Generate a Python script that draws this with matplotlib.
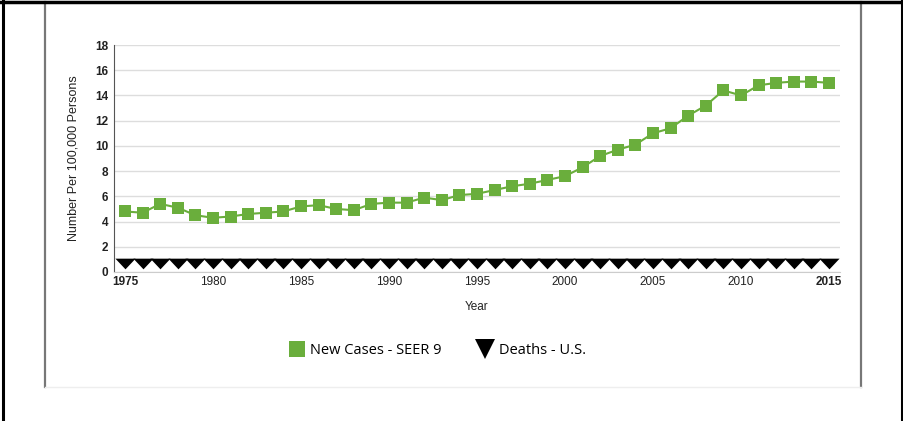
import matplotlib
matplotlib.use('Agg')
import matplotlib.pyplot as plt
from matplotlib.lines import Line2D
import numpy as np

# values
years = list(range(1975, 2016))
new_cases = [4.8, 4.7, 5.4, 5.1, 4.5, 4.3, 4.4, 4.6, 4.7, 4.8,
             5.2, 5.3, 5.0, 4.9, 5.4, 5.5, 5.5, 5.9, 5.7, 6.1,
             6.2, 6.5, 6.8, 7.0, 7.3, 7.6, 8.3, 9.2, 9.7, 10.1,
             11.0, 11.4, 12.4, 13.2, 14.4, 14.0, 14.8, 15.0, 15.1, 15.1,
             15.0]
deaths = [0.7] * len(years)
x_ticks = [1975, 1980, 1985, 1990, 1995, 2000, 2005, 2010, 2015]
y_ticks = [0, 2, 4, 6, 8, 10, 12, 14, 16, 18]

green = '#6aae3c'
plt.rcParams['font.family'] = ['Liberation Sans', 'DejaVu Sans']

fig = plt.figure(figsize=(9.04, 4.21), dpi=100)

# outer frames
W, H = 904, 421
def px_line(x0, y0, x1, y1, color, lw):
    fig.add_artist(Line2D([x0 / W, x1 / W], [1 - y0 / H, 1 - y1 / H],
                          transform=fig.transFigure, color=color, lw=lw))

px_line(45, 2, 45, 387, '#777777', 1.6)
px_line(861, 2, 861, 387, '#777777', 1.6)
px_line(45, 387, 861, 387, '#eeeeee', 1.0)
px_line(3, 0, 3, 421, 'black', 2.2)
px_line(902, 0, 902, 421, 'black', 2.2)
px_line(0, 1.5, 904, 1.5, 'black', 2.5)

ax = fig.add_axes([114 / W, 1 - 272 / H, (840 - 114) / W, (272 - 45) / H])

# flattened down-pointing triangle
tri = [(-1, 0.48), (1, 0.48), (0, -0.58), (-1, 0.48)]

ax.plot(years, new_cases, color=green, lw=1.5, marker='s', markersize=8.5,
        markeredgewidth=0, label='New Cases - SEER 9', zorder=3)
ax.plot(years, deaths, color='black', lw=0, marker=tri, markersize=14.5,
        markeredgewidth=0, label='Deaths - U.S.', zorder=4, clip_on=False)

ax.set_xlim(1974.375, 2015.625)
ax.set_ylim(0, 18)
ax.set_xticks(x_ticks)
ax.set_yticks(y_ticks)
ax.set_yticklabels([str(v) for v in y_ticks], fontweight='bold', fontsize=8.5)
ax.set_xticklabels([str(v) for v in x_ticks], fontsize=8.5)
for lbl in ax.get_xticklabels():
    if lbl.get_text() in ('1975', '2015'):
        lbl.set_fontweight('bold')
ax.tick_params(axis='both', length=0, pad=3, colors='#222222')
ax.tick_params(axis='y', pad=4)

ax.grid(axis='y', color='#dddddd', lw=1)
ax.set_axisbelow(True)
for s in ['top', 'right']:
    ax.spines[s].set_visible(False)
ax.spines['left'].set_color('#555555')
ax.spines['bottom'].set_color('#cccccc')

ax.set_ylabel('Number Per 100,000 Persons', fontsize=9, labelpad=11, color='#222222')
ax.set_xlabel('Year', fontsize=8.5, labelpad=9, color='#222222')

handles = [
    Line2D([], [], color=green, marker='s', lw=0, markersize=11, markeredgewidth=0),
    Line2D([], [], color='black', marker='v', lw=0, markersize=14, markeredgewidth=0),
]
fig.legend(handles, ['New Cases - SEER 9', 'Deaths - U.S.'], loc='center',
           bbox_to_anchor=(437 / W, 1 - 351 / H), ncol=2, frameon=False,
           prop={'family': 'Open Sans', 'size': 10.5}, handletextpad=0.3,
           columnspacing=2.4, handlelength=1.2)

fig.savefig('out.png', dpi=100)
